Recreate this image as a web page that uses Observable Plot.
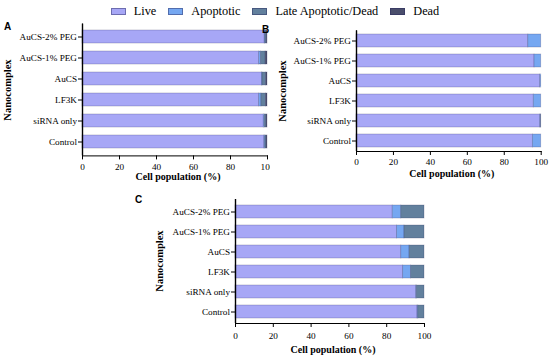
<!DOCTYPE html>
<html><head><meta charset="utf-8">
<script src="https://cdn.jsdelivr.net/npm/d3@7"></script>
<script src="https://cdn.jsdelivr.net/npm/@observablehq/plot@0.6"></script>
<style>
body{margin:0;background:#fff;}
#root{position:relative;width:550px;height:360px;overflow:hidden;font-family:"Liberation Serif","Times New Roman",serif;background:#fff;}
.panel{position:absolute;overflow:hidden;}
.panel svg text{font-family:"Liberation Serif","Times New Roman",serif;}
.letter{position:absolute;font-family:"Liberation Sans",Arial,sans-serif;font-weight:bold;font-size:10px;line-height:10px;}
.ylab{position:absolute;font-weight:bold;font-size:10.5px;line-height:12px;white-space:nowrap;transform:translate(-50%,-50%) rotate(-90deg);}
#legend{position:absolute;top:4px;left:0;width:550px;display:flex;justify-content:center;align-items:center;font-size:12.3px;line-height:14px;}
#legend .item{display:flex;align-items:center;margin:0 6px;}
#legend .sw{width:15px;height:7px;margin-right:8px;box-sizing:border-box;border:0.75px solid rgba(40,40,90,0.45);}
</style></head>
<body><div id="root"></div>
<script>
const categories = ["AuCS-2% PEG","AuCS-1% PEG","AuCS","LF3K","siRNA only","Control"];
const states = ["Live","Apoptotic","Late Apoptotic/Dead","Dead"];
const xTicks = [0,20,40,60,80,100];
const xLabel = "Cell population (%)";
const yLabel = "Nanocomplex";

// Panel A
const aLive      = [98.5, 95.5, 97.0, 95.5, 98.0, 98.3];
const aApoptotic = [0.3, 1.0, 0.3, 1.2, 0.5, 0.5];
const aLate      = [0.8, 2.5, 2.0, 2.5, 1.0, 0.7];
const aDead      = [0.4, 1.0, 0.7, 0.8, 0.5, 0.5];
// Panel B
const bLive      = [93.0, 96.4, 99.5, 96.0, 99.5, 95.5];
const bApoptotic = [7.0, 3.6, 0.5, 4.0, 0.3, 4.5];
const bLate      = [0, 0, 0, 0, 0.2, 0];
const bDead      = [0, 0, 0, 0, 0, 0];
// Panel C
const cLive      = [83.2, 85.5, 87.7, 88.7, 95.6, 96.3];
const cApoptotic = [4.5, 3.9, 4.4, 4.2, 0.4, 0.4];
const cLate      = [12.3, 10.6, 7.9, 7.1, 4.0, 3.3];
const cDead      = [0, 0, 0, 0, 0, 0];

const colors = ["#a7a7f6", "#75a7f1", "#62809d", "#4a4e6c"];
const serif = "'Liberation Serif', 'Times New Roman', serif";

const root = document.getElementById("root");

// legend
const legend = document.createElement("div");
legend.id = "legend";
states.forEach((s, i) => {
  const it = document.createElement("div"); it.className = "item";
  const sw = document.createElement("div"); sw.className = "sw"; sw.style.background = colors[i];
  const tx = document.createElement("span"); tx.textContent = s;
  it.appendChild(sw); it.appendChild(tx); legend.appendChild(it);
});
root.appendChild(legend);

function rowsFor(series) {
  const rows = [];
  categories.forEach((c, j) => {
    states.forEach((s, i) => rows.push({cat: c, state: s, value: series[i][j]}));
  });
  return rows;
}

function panel(series, g) {
  const div = document.createElement("div");
  div.className = "panel";
  Object.assign(div.style, {left: g.left + "px", top: g.top + "px", width: g.width + "px", height: g.height + "px"});
  const chart = Plot.plot({
    width: g.width, height: g.height,
    marginLeft: g.ml, marginRight: g.mr, marginTop: g.mt, marginBottom: g.mb,
    style: `background:transparent;color:black;font-family:${serif};font-size:9.2px;overflow:hidden;`,
    x: {domain: [0, 100], ticks: xTicks, tickSize: 4, tickPadding: g.xpad, label: null, line: true},
    y: {domain: categories, paddingInner: 0.37, paddingOuter: 0.2, tickSize: 4, tickPadding: 1.5, label: null, line: true},
    color: {domain: states, range: colors},
    marks: [
      Plot.barX(rowsFor(series), {x: "value", y: "cat", fill: "state", stroke: "#2c2c60", strokeOpacity: 0.3, strokeWidth: 0.8}),
      Plot.ruleX([0], {strokeWidth: 1.4}),
      Plot.text([xLabel], {frameAnchor: "bottom", dy: g.tdy, dx: 3, fontWeight: "bold", fontSize: 10, fontFamily: serif})
    ]
  });
  div.appendChild(chart);
  root.appendChild(div);
  const yl = document.createElement("div");
  yl.className = "ylab"; yl.textContent = yLabel;
  const cy = g.top + (g.mt + g.height - g.mb) / 2;
  Object.assign(yl.style, {left: (g.left + g.yx) + "px", top: cy + "px"});
  root.appendChild(yl);
  const lt = document.createElement("div");
  lt.className = "letter"; lt.textContent = g.letter;
  Object.assign(lt.style, {left: g.lx + "px", top: g.ly + "px"});
  root.appendChild(lt);
  return chart;
}

panel([aLive, aApoptotic, aLate, aDead],
  {left: 0, top: 0, width: 270, height: 190, ml: 82, mr: 3, mt: 23.6, mb: 34.6, xpad: 3.5, tdy: 23.6, yx: 8, letter: "A", lx: 4, ly: 22});
panel([bLive, bApoptotic, bLate, bDead],
  {left: 270, top: 0, width: 280, height: 190, ml: 86, mr: 9.3, mt: 30.4, mb: 39, xpad: 3.2, tdy: 25.7, yx: 13, letter: "B", lx: 262, ly: 25});
panel([cLive, cApoptotic, cLate, cDead],
  {left: 130, top: 190, width: 310, height: 170, ml: 105, mr: 16, mt: 9, mb: 37, xpad: 4.5, tdy: 29, yx: 30, letter: "C", lx: 135, ly: 195});
</script>
</body></html>
